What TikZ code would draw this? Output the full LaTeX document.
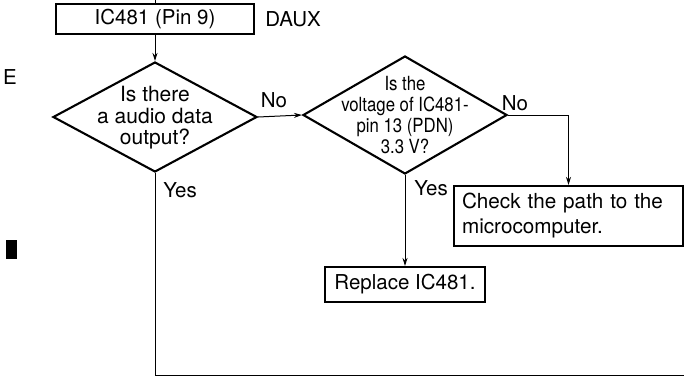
\documentclass[tikz,border=0pt]{standalone}
\usepackage{fontspec}
\setmainfont{TeX Gyre Heros}
\newfontfamily\narrowfont[FakeStretch=0.86]{TeX Gyre Heros}
\usetikzlibrary{shapes.geometric,arrows.meta}
\begin{document}
\begin{tikzpicture}[x=1pt,y=-1pt,
  box/.style={draw,line width=2.1pt,inner sep=0pt,font=\fontsize{20.5}{22}\selectfont},
  dia/.style={draw,diamond,line width=2.1pt,inner sep=0pt},
  conn/.style={line width=1pt},
  arr/.style={conn,-{Stealth[length=8pt,width=5pt]}},
  lbl/.style={inner sep=0pt,font=\fontsize{20.5}{22}\selectfont}]
\useasboundingbox (0,0) rectangle (684,381);
% nodes
\node[box,minimum width=198,minimum height=30] (start) at (155,19) {IC481 (Pin 9)};
\node[lbl] (daux) at (293,19) {DAUX};
\node[lbl] (e) at (10,77) {E};
\node[dia,minimum width=204,minimum height=110] (d1) at (155,117) {};
\node[lbl,align=center,font=\fontsize{21}{21.5}\selectfont] (d1t) at (155,118) {Is there\\a audio data\\output?};
\node[dia,minimum width=204,minimum height=118] (d2) at (405,115) {};
\node[lbl,align=center,font=\narrowfont\fontsize{19.5}{21}\selectfont] (d2t) at (405,115) {Is the\\voltage of IC481-\\pin 13 (PDN)\\3.3 V?};
\node[box,minimum width=229,minimum height=60,text width=213,inner xsep=8pt,align=left,font=\fontsize{20.7}{25}\selectfont] (check) at (568.5,216) {Check the path to the\\microcomputer.};
\node[box,minimum width=160,minimum height=35] (repl) at (405,284.5) {Replace IC481.};
\node[lbl] (no1) at (274,100) {No};
\node[lbl] (no2) at (515,103) {No};
\node[lbl] (yes1) at (180,190) {Yes};
\node[lbl] (yes2) at (431,188) {Yes};
\node[fill,minimum width=11,minimum height=19,inner sep=0pt] (mark) at (11.5,249.5) {};
\coordinate (top) at (155,0);
\coordinate (endr) at (684,375);
% connectors
\draw[conn] (top) -- (start.north);
\draw[arr] (start.south) -- (d1.north);
\draw[arr] (d1.east) -- (d2.west);
\draw[arr] (d2.east) -| (check.north);
\draw[arr] (d2.south) -- (repl.north);
\draw[conn] (d1.south) |- (endr);
\end{tikzpicture}
\end{document}
